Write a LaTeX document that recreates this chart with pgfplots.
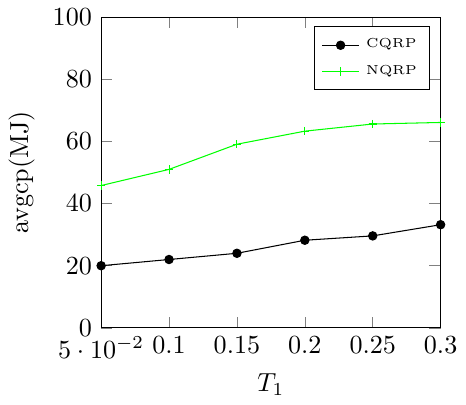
\documentclass[border=0pt]{standalone}
\usepackage{pgfplots}
\pgfplotsset{compat=1.18}
\begin{document}
\begin{tikzpicture}
\begin{axis}[
  scale only axis,
  width=130pt, height=119pt,
  xmin=0.05, xmax=0.3,
  ymin=0, ymax=100,
  xtick={0.05,0.1,0.15,0.2,0.25,0.3},
  ytick={0,20,40,60,80,100},
  xlabel={$T_1$},
  xlabel style={yshift=1pt},
  ylabel={avgcp(MJ)},
  legend pos=north east,
  legend style={font=\tiny, inner sep=2.5pt, row sep=1pt, nodes={inner xsep=2.5pt}},
  legend cell align=left,
  legend image code/.code={\draw[mark repeat=2,mark phase=2] plot coordinates {(0cm,0cm) (0.25cm,0cm) (0.5cm,0cm)};},
]
\addplot[black, mark=*, mark size=1.6pt] coordinates {
(0.05,20) (0.1,22) (0.15,24) (0.2,28.2) (0.25,29.6) (0.3,33.2)};
\addlegendentry{CQRP}
\addplot[green, mark=+, mark size=1.6pt] coordinates {
(0.05,45.8) (0.1,51) (0.15,59.1) (0.2,63.3) (0.25,65.6) (0.3,66.1)};
\addlegendentry{NQRP}
\end{axis}
\end{tikzpicture}
\end{document}
